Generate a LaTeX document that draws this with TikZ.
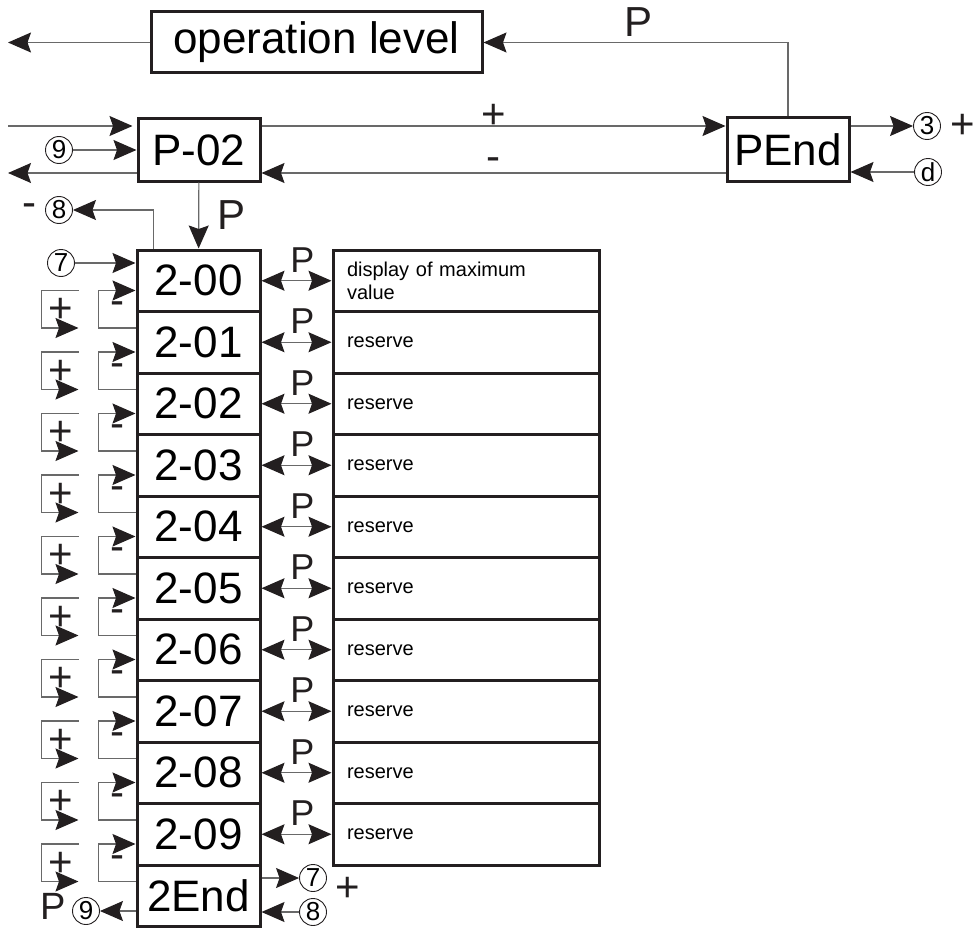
\documentclass[tikz,border=0pt]{standalone}
\usepackage{fontspec}
\setmainfont{Liberation Sans}
\usepackage{tikz}
\usetikzlibrary{positioning, arrows.meta, calc}
\definecolor{ink}{RGB}{35,31,32}
\definecolor{wire}{RGB}{105,105,105}

\begin{document}
\begin{tikzpicture}[x=1pt, y=-1pt,
    tip/.tip={Stealth[length=23pt 0 0,width=20pt 0 0,inset=3.5pt 0,color=ink]},
    bx/.style={rectangle,draw=ink,line width=3pt,fill=white,inner sep=0pt,
               font=\fontsize{44}{44}\selectfont},
    db/.style={bx,minimum width=266,minimum height=61.5,text width=238,
               inner xsep=14pt,align=left,font=\fontsize{20}{23}\selectfont},
    ln/.style={draw=wire,line width=1.2pt},
    ar/.style={ln,-tip},
    ar2/.style={ln,tip-tip},
    cn/.style={circle,draw=ink,line width=0.9pt,inner sep=0pt,minimum size=27,
               font=\fontsize{26}{26}\selectfont},
    lb/.style={inner sep=0pt,font=\fontsize{42}{42}\selectfont,text=ink},
    pl/.style={lb,font=\fontsize{36}{36}\selectfont}]

  \useasboundingbox (0,0) rectangle (973,928);

  \node[bx,minimum width=331,minimum height=61] (op) at (316.5,42.5) {operation level};
  \node[bx,minimum width=122,minimum height=62] (p02) at (199,150) {P-02};
  \node[bx,minimum width=122,minimum height=63] (pend) at (788,149.5) {PEnd};

  \coordinate (opout) at (8,42.5);
  \coordinate (inA) at (8,126);
  \coordinate (outA) at (8,173);
  \node[cn] (c9a) at (59,150) {9};
  \node[cn] (c8a) at (59,210) {8};
  \node[cn] (c7a) at (61,263) {7};
  \node[cn] (c3) at (927,126) {3};
  \node[cn] (cd) at (928,172) {d};

  \draw[ar] (op.west) -- (opout);
  \draw[ar] (pend.north) |- (op.east) node[lb,pos=0.75,above=5pt,xshift=3pt] {P};
  \draw[ar,shorten >=4pt] (inA) -- (inA -| p02.west);
  \draw[ar] (c9a) -- (p02);
  \draw[ar] (outA -| p02.west) -- (outA);
  \draw[ar] (inA -| p02.east) -- (inA -| pend.west) node[lb,midway,yshift=10pt] {+};
  \draw[ar] (outA -| pend.west) -- (outA -| p02.east) node[lb,midway,above=1.5pt] {-};
  \draw[ar] (inA -| pend.east) -- (c3);
  \node[lb,right=9pt of c3] {+};
  \draw[ar] (cd) -- (cd -| pend.east);

  \foreach \lbl [count=\k from 0] in {2-00,2-01,2-02,2-03,2-04,2-05,2-06,2-07,2-08,2-09,2End}
    \node[bx,minimum width=123,minimum height=61.5] (r\k) at (198.5,{280.75+61.5*\k}) {\lbl};

  \node[db] (d0) at (466,280.75) {display of maximum\\value};
  \foreach \k in {1,...,9}
    \node[db] (d\k) at (466,{280.75+61.5*\k}) {reserve};
  \foreach \k in {0,...,9}
    \draw[ar2] (r\k) -- (d\k) node[pl,midway,above=8pt,xshift=6pt] {P};

  \draw[ar] (p02) -- (r0) node[lb,midway,right=18pt] {P};
  \draw[ar] ($(r0.north west)+(18,0)$) |- (c8a);
  \node[lb,left=8pt of c8a] {-};
  \draw[ar] (c7a) -- (c7a -| r0.west);

  \foreach \k [evaluate=\k as \j using int(\k+1)] in {0,...,9} {
    \draw[ar] ($(r\j.north west)+(0,18)$) -- ++(-37,0) |- ($(r\k.north west)+(0,42)$);
    \node[lb] at ($(r\k.north west)+(-18,60)$) {-};
    \coordinate (pa\k) at ($(r\k.north west)+(-57,42)$);
    \coordinate (pb\k) at ($(r\j.north west)+(-57,18)$);
    \draw[ar] (pa\k) -- ++(-37,0) |- (pb\k);
    \node[lb] at ($(r\k.north west)+(-75,62)$) {+};
  }

  \node[cn] (c7b) at (313,878) {7};
  \node[cn] (c8b) at (313,912) {8};
  \node[cn] (c9b) at (86,911) {9};
  \draw[ar] (c7b -| r10.east) -- (c7b);
  \draw[ar] (c8b) -- (c8b -| r10.east);
  \draw[ar] (c9b -| r10.west) -- (c9b);
  \node[lb] at (348,889) {+};
  \node[lb,left=6pt of c9b,yshift=5pt,font=\fontsize{38}{38}\selectfont] {P};
\end{tikzpicture}
\end{document}
